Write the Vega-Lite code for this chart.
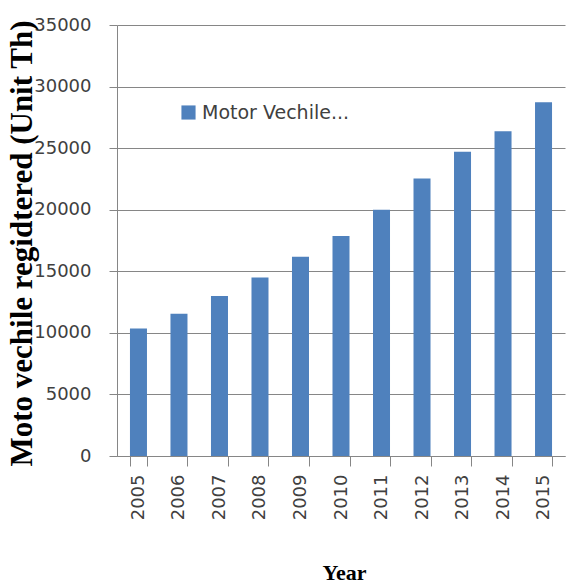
{
  "$schema": "https://vega.github.io/schema/vega-lite/v6.json",
  "autosize": "none",
  "width": 448,
  "height": 431,
  "padding": {"left": 117, "top": 25, "right": 7, "bottom": 128},
  "background": "white",
  "data": {"values": [
    {"Year": "2005", "Value": 10350, "Series": "Motor Vechile..."},
    {"Year": "2006", "Value": 11550, "Series": "Motor Vechile..."},
    {"Year": "2007", "Value": 13000, "Series": "Motor Vechile..."},
    {"Year": "2008", "Value": 14500, "Series": "Motor Vechile..."},
    {"Year": "2009", "Value": 16180, "Series": "Motor Vechile..."},
    {"Year": "2010", "Value": 17860, "Series": "Motor Vechile..."},
    {"Year": "2011", "Value": 20000, "Series": "Motor Vechile..."},
    {"Year": "2012", "Value": 22540, "Series": "Motor Vechile..."},
    {"Year": "2013", "Value": 24700, "Series": "Motor Vechile..."},
    {"Year": "2014", "Value": 26380, "Series": "Motor Vechile..."},
    {"Year": "2015", "Value": 28720, "Series": "Motor Vechile..."}
  ]},
  "config": {
    "view": {"stroke": null},
    "axis": {"labelFont": "DejaVu Sans", "titleFont": "Liberation Serif"}
  },
  "mark": {"type": "bar", "color": "#4F81BD"},
  "encoding": {
    "x": {
      "field": "Year", "type": "nominal",
      "scale": {"paddingInner": 0.58, "paddingOuter": 0.32},
      "axis": {
        "title": "Year", "titleFontSize": 22, "titleFontWeight": "bold", "titleColor": "#000000",
        "titleX": 227, "titleY": 116, "titleBaseline": "middle", "titleAlign": "center",
        "labelAngle": -90, "labelFontSize": 18, "labelColor": "#404040", "labelPadding": 8,
        "labelAlign": "right", "labelBaseline": "middle",
        "tickBand": "extent", "tickSize": 10, "tickColor": "#868686", "domainColor": "#868686",
        "grid": false
      }
    },
    "y": {
      "field": "Value", "type": "quantitative",
      "scale": {"domain": [0, 35000], "nice": false},
      "axis": {
        "title": "Moto vechile regidtered (Unit Th)", "titleFontSize": 31, "titleFontWeight": "bold", "titleColor": "#000000",
        "titleX": -95, "titleY": 218, "titleBaseline": "middle", "titleAlign": "center", "titleAngle": -90,
        "values": [0, 5000, 10000, 15000, 20000, 25000, 30000, 35000],
        "format": "d", "labelFontSize": 18, "labelColor": "#404040", "labelPadding": 18,
        "tickSize": 8, "tickColor": "#868686", "domainColor": "#868686",
        "grid": true, "gridColor": "#868686", "gridWidth": 1
      }
    },
    "fill": {
      "field": "Series", "type": "nominal",
      "scale": {"range": ["#4F81BD"]},
      "legend": {
        "title": null, "orient": "none", "legendX": 62, "legendY": 78,
        "symbolType": "square", "symbolSize": 200, "labelFontSize": 19, "labelFont": "DejaVu Sans",
        "labelColor": "#404040", "labelLimit": 300, "symbolStrokeWidth": 0
      }
    }
  }
}
